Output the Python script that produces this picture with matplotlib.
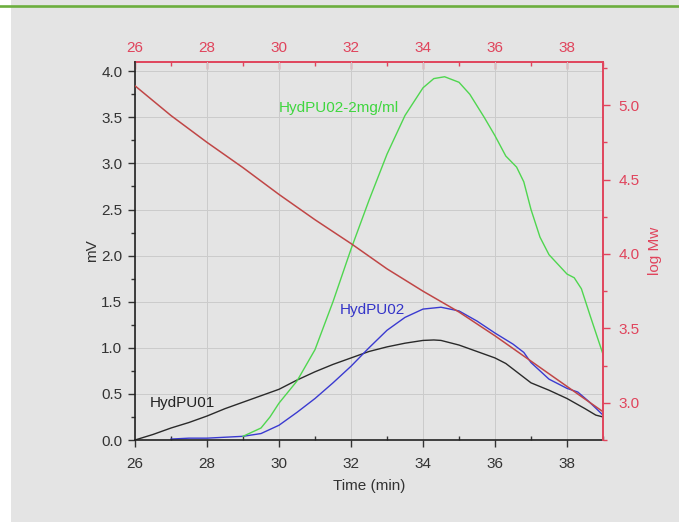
import matplotlib
matplotlib.use("Agg")
import matplotlib.pyplot as plt
from matplotlib.lines import Line2D
from matplotlib.patches import Rectangle
from matplotlib.ticker import MultipleLocator

plt.rcParams["font.family"] = ["Liberation Sans", "DejaVu Sans"]

BG = "#e4e4e4"
RED = "#e0445c"
RED_LINE = "#c04646"
GRID = "#cbcbcb"
TXT = "#333333"

# HydPU01
t_01 = [26, 26.5, 27, 27.5, 28, 28.5, 29, 29.5, 30, 30.5, 31, 31.5, 32, 32.5,
        33, 33.5, 34, 34.3, 34.5, 35, 35.5, 36, 36.3, 36.6, 37, 37.5, 38, 38.5,
        38.8, 39]
mv_01 = [0.0, 0.06, 0.13, 0.19, 0.26, 0.34, 0.41, 0.48, 0.55, 0.65, 0.74, 0.82,
         0.89, 0.96, 1.01, 1.05, 1.08, 1.085, 1.08, 1.03, 0.96, 0.89, 0.83,
         0.74, 0.62, 0.54, 0.45, 0.34, 0.27, 0.25]

# HydPU02
t_02 = [27, 27.5, 28, 28.5, 29, 29.5, 30, 30.5, 31, 31.5, 32, 32.5, 33, 33.5,
        34, 34.5, 35, 35.5, 36, 36.5, 36.8, 37, 37.5, 38, 38.3, 38.6, 39]
mv_02 = [0.01, 0.02, 0.02, 0.03, 0.04, 0.07, 0.16, 0.30, 0.45, 0.62, 0.80, 1.00,
         1.19, 1.33, 1.42, 1.44, 1.40, 1.29, 1.16, 1.04, 0.95, 0.84, 0.66, 0.56,
         0.52, 0.42, 0.27]

# HydPU02-2mg/ml
t_02b = [29, 29.5, 29.75, 30, 30.5, 31, 31.5, 32, 32.5, 33, 33.5, 34, 34.3,
         34.6, 35, 35.3, 35.7, 36, 36.3, 36.6, 36.8, 37, 37.25, 37.5, 38, 38.2,
         38.4, 38.65, 39]
mv_02b = [0.04, 0.13, 0.25, 0.40, 0.64, 0.98, 1.50, 2.07, 2.60, 3.10, 3.52,
          3.82, 3.92, 3.94, 3.88, 3.75, 3.50, 3.30, 3.08, 2.96, 2.80, 2.50,
          2.20, 2.01, 1.80, 1.76, 1.64, 1.34, 0.93]

# calibration (log Mw vs time)
t_cal = [26, 27, 28, 29, 30, 31, 32, 33, 34, 35, 36, 37, 38, 39]
log_mw = [5.13, 4.93, 4.75, 4.58, 4.40, 4.23, 4.07, 3.90, 3.75, 3.61, 3.45,
          3.28, 3.11, 2.94]

x_ticks = [26, 28, 30, 32, 34, 36, 38]
mv_ticks = [0.0, 0.5, 1.0, 1.5, 2.0, 2.5, 3.0, 3.5, 4.0]
mw_ticks = [3.0, 3.5, 4.0, 4.5, 5.0]

fig = plt.figure(figsize=(6.79, 5.22), dpi=100, facecolor=BG)
fig.add_artist(Rectangle((0, 0), 11 / 679, 1, transform=fig.transFigure,
                         facecolor="white", edgecolor="none"))
fig.add_artist(Line2D([0, 1], [1 - 5.5 / 522] * 2, transform=fig.transFigure,
                      color="#6cae3e", lw=1.9))

ax = fig.add_axes([135 / 679, 82 / 522, 468 / 679, 378 / 522])
ax.set_facecolor(BG)

ax.plot(t_01, mv_01, color="#2a2a2a", lw=1.0)
ax.plot(t_02, mv_02, color="#3a3ad0", lw=1.0)
ax.plot(t_02b, mv_02b, color="#4fd64f", lw=1.0)

ax.text(30.0, 3.60, "HydPU02-2mg/ml", color="#3fd63f", fontsize=11, va="center")
ax.text(31.7, 1.41, "HydPU02", color="#3434c8", fontsize=11, va="center")
ax.text(26.4, 0.40, "HydPU01", color="#222222", fontsize=11, va="center")

ax.set_xlim(26, 39)
ax.set_ylim(0, 4.1)
ax.set_xticks(x_ticks)
ax.set_yticks(mv_ticks)
ax.xaxis.set_minor_locator(MultipleLocator(1))
ax.yaxis.set_minor_locator(MultipleLocator(0.25))
ax.grid(True, which="major", color=GRID, lw=0.7)
ax.set_axisbelow(True)

ax.tick_params(axis="x", which="major", direction="out", length=5, width=1,
               pad=7, labelsize=11, colors=TXT)
ax.tick_params(axis="x", which="minor", direction="in", length=3, width=1,
               colors=TXT)
ax.tick_params(axis="y", which="major", direction="out", length=5, width=1,
               pad=4, labelsize=11, colors=TXT)
ax.tick_params(axis="y", which="minor", direction="out", length=3, width=1,
               colors=TXT)
ax.set_xticklabels([str(v) for v in x_ticks])
ax.set_yticklabels([f"{v:.1f}" for v in mv_ticks])

ax.set_xlabel("Time (min)", fontsize=11, color=TXT, labelpad=6)
ax.set_ylabel("mV", fontsize=11, color=TXT, labelpad=2)

for side in ("left", "bottom"):
    ax.spines[side].set_color("#222222")
    ax.spines[side].set_linewidth(1.2)
ax.spines["right"].set_visible(False)
ax.spines["top"].set_visible(False)

# red time axis on top
top = ax.secondary_xaxis("top")
top.set_xticks(x_ticks)
top.set_xticklabels([str(v) for v in x_ticks])
top.xaxis.set_minor_locator(MultipleLocator(1))
top.tick_params(axis="x", which="major", direction="in", length=5, width=1,
                pad=5, labelsize=11, colors=RED)
top.tick_params(axis="x", which="minor", direction="in", length=3, width=1,
                colors=RED)
top.spines["top"].set_color(RED)
top.spines["top"].set_linewidth(1.4)

# log Mw on the right
ax2 = ax.twinx()
ax2.plot(t_cal, log_mw, color=RED_LINE, lw=1.1)
ax2.set_ylim(2.75, 5.29)
ax2.set_yticks(mw_ticks)
ax2.set_yticklabels([f"{v:.1f}" for v in mw_ticks])
ax2.yaxis.set_minor_locator(MultipleLocator(0.25))
ax2.tick_params(axis="y", which="major", direction="out", length=5, width=1,
                pad=6, labelsize=11, colors=RED)
ax2.tick_params(axis="y", which="minor", direction="out", length=3, width=1,
                colors=RED)
ax2.set_ylabel("log Mw", fontsize=11, color=RED, labelpad=6)
for side in ("left", "top", "bottom"):
    ax2.spines[side].set_visible(False)
ax2.spines["right"].set_color(RED)
ax2.spines["right"].set_linewidth(1.4)

fig.savefig("out.png", dpi=100, facecolor=BG)
